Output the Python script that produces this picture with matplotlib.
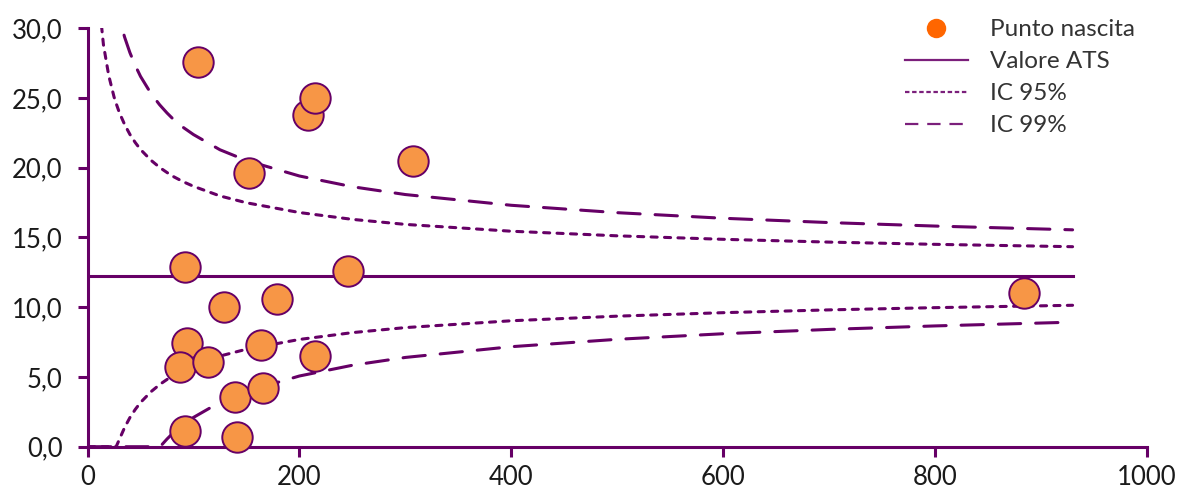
import matplotlib
matplotlib.use("Agg")
import matplotlib.pyplot as plt
from matplotlib.lines import Line2D
from matplotlib.ticker import FuncFormatter

plt.rcParams['font.family'] = ['Lato', 'DejaVu Sans']

# birth points: number of births (x) and rate % (y)
births = [104, 208, 215, 152, 307, 92, 246, 129, 179, 94, 87, 114, 164, 215, 139, 166, 92, 141, 884]
rate = [27.6, 23.8, 25.0, 19.6, 20.5, 12.9, 12.6, 10.0, 10.6, 7.4, 5.7, 6.1, 7.3, 6.5, 3.6, 4.2, 1.1, 0.7, 11.0]

# funnel limits read along the x axis
n_grid = [1, 10, 15, 20, 25, 27, 30, 35, 40, 45, 50, 60, 68, 70, 75, 80, 90, 100,
          125, 150, 200, 250, 300, 400, 500, 600, 700, 800, 930]
ats_value = [12.24] * len(n_grid)
up95 = [76.5, 32.55, 28.82, 26.61, 25.08, 24.61, 23.96, 23.10, 22.39, 21.81, 21.31, 20.53, 20.03, 19.92,
        19.66, 19.41, 19.01, 18.67, 17.98, 17.49, 16.79, 16.30, 15.94, 15.45, 15.12, 14.87, 14.67, 14.51, 14.34]
lo95 = [0, 0, 0, 0, 0, 0, 0.52, 1.38, 2.09, 2.67, 3.17, 3.95, 4.45, 4.56,
        4.82, 5.07, 5.47, 5.81, 6.50, 6.99, 7.69, 8.18, 8.54, 9.03, 9.36, 9.61, 9.81, 9.97, 10.14]
up99 = [113.5, 44.25, 38.38, 34.89, 32.48, 31.74, 30.72, 29.36, 28.25, 27.34, 26.55, 25.31, 24.52, 24.35,
        23.93, 23.55, 22.91, 22.38, 21.29, 20.52, 19.41, 18.64, 18.08, 17.31, 16.78, 16.38, 16.07, 15.82, 15.55]
lo99 = [0, 0, 0, 0, 0, 0, 0, 0, 0, 0, 0, 0, 0, 0.13,
        0.55, 0.93, 1.57, 2.10, 3.19, 3.96, 5.07, 5.84, 6.40, 7.17, 7.70, 8.10, 8.41, 8.66, 8.93]

purple = '#660066'
orange = '#F79646'

fig = plt.figure(figsize=(11.8, 4.91), dpi=100)
ax = fig.add_axes([0.0742, 0.0902, 0.8976, 0.8522])

lw = 2.2
short_dash = (0, (2.0, 2.4))
long_dash = (0, (7.3, 4.9))
ax.plot(n_grid, ats_value, color=purple, lw=lw, zorder=2)
for vals, ls in ((up95, short_dash), (lo95, short_dash), (up99, long_dash), (lo99, long_dash)):
    ax.plot(n_grid, vals, color=purple, lw=lw, ls=ls, dash_capstyle='round', zorder=2)

ax.scatter(births, rate, s=480, color=orange, edgecolor=purple, linewidth=1.4,
           zorder=3, clip_on=False)

ax.set_xlim(0, 1000)
ax.set_ylim(0, 30)
ax.set_xticks(range(0, 1001, 200))
ax.set_yticks(range(0, 31, 5))
ax.yaxis.set_major_formatter(FuncFormatter(lambda v, p: f"{v:.1f}".replace('.', ',')))

for side in ('top', 'right'):
    ax.spines[side].set_visible(False)
for side in ('left', 'bottom'):
    ax.spines[side].set_color(purple)
    ax.spines[side].set_linewidth(2.2)
ax.tick_params(axis='both', colors=purple, width=2.2, length=7, labelsize=18.5,
               labelcolor='#1a1a1a')
ax.tick_params(axis='y', pad=11)
ax.tick_params(axis='x', pad=6)

handles = [
    Line2D([], [], ls='none', marker='o', markersize=14, color='#FF6600', markeredgewidth=0),
    Line2D([], [], color='#7B1F7B', lw=1.6),
    Line2D([], [], color='#7B1F7B', lw=1.6, ls=(0, (2, 1.2))),
    Line2D([], [], color='#7B1F7B', lw=1.6, ls=(0, (6, 4))),
]
labels = ['Punto nascita', 'Valore ATS', 'IC 95%', 'IC 99%']
fig.legend(handles, labels, loc='upper left', bbox_to_anchor=(0.748, 1.005), frameon=False,
           fontsize=17.5, handlelength=2.6, handletextpad=0.9, labelspacing=0.45,
           labelcolor='#333333')

fig.savefig('out.png', dpi=100)
